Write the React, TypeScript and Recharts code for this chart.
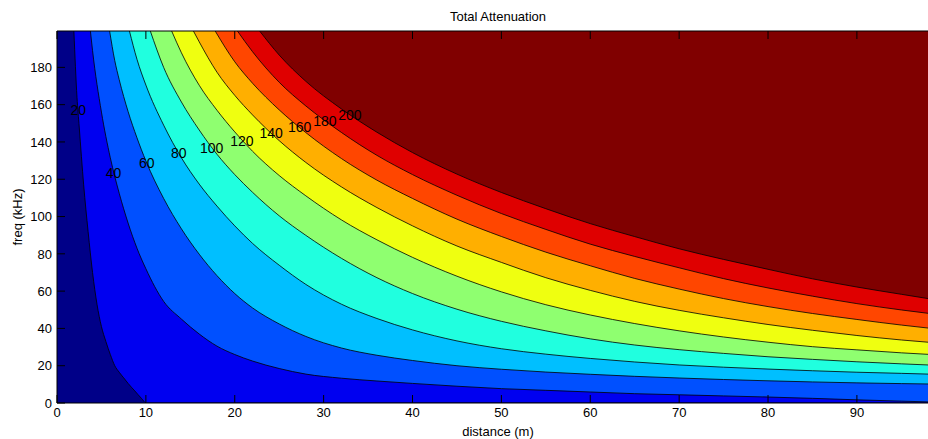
import React from 'react';
import { ComposedChart, Area, Scatter, XAxis, YAxis, ReferenceLine } from 'recharts';

// contour lines of total attenuation as [distance (m), freq (kHz)]
const level20: [number, number][] = [
  [1.9, 199.5], [2.25, 164], [2.5, 148], [3, 117], [3.5, 92], [4, 70], [4.5, 53], [5, 41], [5.5, 33],
  [6, 26], [6.5, 20], [7, 16.5], [7.5, 13.5], [8, 10.5], [8.75, 6.5], [9.5, 2.5], [10.05, 0], [98, 0],
];
const level40: [number, number][] = [
  [3.76, 199.5], [4, 189], [5, 156], [6, 131.5], [7, 112.5], [8, 96.5], [9, 83], [10, 72], [12, 54.5],
  [14, 45], [16, 37], [18, 30.5], [20, 26], [22, 22.5], [25, 18.5], [28, 15.5], [32, 13.3], [36, 11.8],
  [40, 10.5], [45, 9], [50, 7.7], [55, 6.8], [60, 5.9], [65, 5], [70, 4.4], [75, 3.8], [80, 3.2], [85, 2.5],
  [90, 1.7], [95, 1], [98, 0.6],
];
const level60: [number, number][] = [
  [5.92, 199.5], [6.5, 183.6], [7, 173.4], [8, 156.3], [9, 142.2], [10, 129.8], [12, 109.7], [14, 93.4],
  [16, 79.8], [18, 68.3], [20, 58.7], [22, 51], [25, 42.4], [28, 35.7], [32, 29.5], [36, 25.6], [40, 22.8],
  [45, 20], [50, 18.1], [55, 16.6], [60, 15.4], [65, 14.3], [70, 13.4], [75, 12.6], [80, 11.9], [85, 11.3],
  [90, 10.8], [95, 10.4], [98, 10.2],
];
const level80: [number, number][] = [
  [8.15, 199.5], [9, 184.3], [10, 170.5], [12, 149], [14, 131.5], [16, 117.4], [18, 105.6], [20, 95],
  [22, 85.6], [25, 73.9], [28, 63.6], [32, 53], [36, 45.3], [40, 39.2], [45, 33.3], [50, 29.1], [55, 26.2],
  [60, 23.9], [65, 22], [70, 20.4], [75, 19.2], [80, 18.2], [85, 17.3], [90, 16.5], [95, 15.9], [98, 15.5],
];
const level100: [number, number][] = [
  [10.5, 199.5], [12, 180], [14, 161.4], [16, 146.4], [18, 133.4], [20, 122.5], [22, 113], [25, 100.4],
  [28, 89.9], [32, 77.6], [36, 67.2], [40, 58.7], [45, 50.3], [50, 43.8], [55, 38.7], [60, 34.4], [65, 31.1],
  [70, 28.6], [75, 26.6], [80, 24.8], [85, 23.4], [90, 22.1], [95, 21], [98, 20.4],
];
const level120: [number, number][] = [
  [12.9, 199.5], [14, 187.8], [16, 170.4], [18, 157], [20, 145.4], [22, 135], [25, 122], [28, 111.1],
  [32, 98.2], [36, 87.5], [40, 78.1], [45, 68], [50, 59.6], [55, 52.7], [60, 47.2], [65, 42.6], [70, 38.7],
  [75, 35.4], [80, 32.6], [85, 30.2], [90, 28.5], [95, 26.9], [98, 26.1],
];
const level140: [number, number][] = [
  [15.35, 199.5], [16, 193.7], [18, 177.4], [20, 165], [22, 154.5], [25, 140.7], [28, 129], [32, 115.9],
  [36, 104.8], [40, 95], [45, 84.2], [50, 75.4], [55, 67.2], [60, 60.4], [65, 54.5], [70, 49.7], [75, 45.7],
  [80, 42.1], [85, 39], [90, 36.2], [95, 33.8], [98, 32.6],
];
const level160: [number, number][] = [
  [17.8, 199.5], [20, 183], [22, 171.5], [25, 157.2], [28, 145], [32, 131.1], [36, 119.5], [40, 109.7],
  [45, 98.6], [50, 89.3], [55, 80.9], [60, 73.6], [65, 66.8], [70, 61.1], [75, 56], [80, 51.7], [85, 48],
  [90, 44.8], [95, 41.8], [98, 40.2],
];
const level180: [number, number][] = [
  [20.3, 199.5], [22, 188.4], [25, 172], [28, 159.3], [32, 145.1], [36, 132.8], [40, 122.5], [45, 111.4],
  [50, 101.6], [55, 93.1], [60, 85.2], [65, 78.6], [70, 72.5], [75, 66.7], [80, 61.7], [85, 57.3], [90, 53.3],
  [95, 49.9], [98, 48.1],
];
const level200: [number, number][] = [
  [22.8, 199.5], [25, 186.6], [28, 172.5], [32, 157.7], [36, 145.2], [40, 134.3], [45, 122.75], [50, 112.9],
  [55, 104.2], [60, 96.2], [65, 89.25], [70, 82.7], [75, 77], [80, 71.7], [85, 66.6], [90, 62.2], [95, 58.3],
  [98, 56],
];

const contours = [level20, level40, level60, level80, level100, level120, level140, level160, level180, level200];

// contour labels (text, distance, freq)
const labelText = ['20', '40', '60', '80', '100', '120', '140', '160', '180', '200'];
const labelDist = [2.4, 6.35, 10.1, 13.7, 17.4, 20.8, 24.1, 27.3, 30.15, 32.95];
const labelFreq = [157.4, 123.5, 128.8, 134.2, 136.9, 140.5, 144.8, 148.3, 151, 154.6];

const distTicks = [0, 10, 20, 30, 40, 50, 60, 70, 80, 90];
const freqTicks = [0, 20, 40, 60, 80, 100, 120, 140, 160, 180];

// jet-like fills, one per band above each level
const BELOW_FILL = '#000088';
const bandFills = ['#0000F0', '#0050FF', '#00BFFF', '#20FFDF', '#8FFF70', '#EFFF10', '#FFAF00', '#FF4600', '#DF0000', '#800000'];

const W = 928;
const H = 439;
const MARGIN = { top: 31, right: 0, bottom: 0, left: 0 };
const X_AXIS_H = 36;
const Y_AXIS_W = 57;
const D_MAX = 98;
const F_MAX = 199.5;
const TICK_LEN = 8;
const GAP_X = 5;
const GAP_Y = 5;
const FONT = '"Liberation Sans", Arial, Helvetica, sans-serif';

const toPts = (arr: [number, number][]) => arr.map(([d, f]) => ({ d, f }));
const labelPts = labelText.map((text, i) => ({ text, d: labelDist[i], f: labelFreq[i] }));
const fullPlot = [{ d: 0, f: 0 }, { d: D_MAX, f: 0 }];

const DistTick = (props: any) => {
  const { x, y, payload } = props;
  const axisY = y - GAP_X;
  return (
    <g>
      <line x1={x} x2={x} y1={axisY} y2={axisY - TICK_LEN} stroke="#000" />
      <line x1={x} x2={x} y1={MARGIN.top} y2={MARGIN.top + TICK_LEN} stroke="#000" />
      <text x={x} y={y} dy="0.71em" textAnchor="middle" fontSize={13} fill="#000">{payload.value}</text>
    </g>
  );
};

const FreqTick = (props: any) => {
  const { x, y, payload } = props;
  const axisX = x + GAP_Y;
  return (
    <g>
      <line x1={axisX} x2={axisX + TICK_LEN} y1={y} y2={y} stroke="#000" />
      <text x={x} y={y} dy="0.36em" textAnchor="end" fontSize={13} fill="#000">{payload.value}</text>
    </g>
  );
};

const ContourLabel = (props: any) => (
  <text x={props.cx} y={props.cy} dy="0.36em" textAnchor="middle" fontSize={14} fill="#000">
    {props.payload.text}
  </text>
);

export default function App() {
  return (
    <div style={{ position: 'absolute', left: 0, top: 0, width: W, height: H, fontFamily: FONT, background: '#fff' }}>
      <ComposedChart width={W} height={H} margin={MARGIN}>
        <Area
          data={fullPlot}
          dataKey="f"
          type="linear"
          baseValue={F_MAX}
          fill={BELOW_FILL}
          fillOpacity={1}
          stroke="none"
          isAnimationActive={false}
        />
        {contours.map((c, i) => (
          <Area
            key={labelText[i]}
            data={toPts(c)}
            dataKey="f"
            type="monotone"
            baseValue={F_MAX}
            fill={bandFills[i]}
            fillOpacity={1}
            stroke="#000"
            strokeWidth={0.8}
            dot={false}
            activeDot={false}
            isAnimationActive={false}
          />
        ))}
        <Scatter data={labelPts} dataKey="f" shape={ContourLabel} isAnimationActive={false} />
        <ReferenceLine y={F_MAX} stroke="#000" strokeWidth={1} />
        <XAxis
          type="number"
          dataKey="d"
          domain={[0, D_MAX]}
          ticks={distTicks}
          allowDataOverflow
          height={X_AXIS_H}
          tickSize={0}
          tickMargin={GAP_X}
          tickLine={false}
          tick={DistTick}
          axisLine={{ stroke: '#000' }}
          interval={0}
        />
        <YAxis
          type="number"
          dataKey="f"
          domain={[0, F_MAX]}
          ticks={freqTicks}
          allowDataOverflow
          width={Y_AXIS_W}
          tickSize={0}
          tickMargin={GAP_Y}
          tickLine={false}
          tick={FreqTick}
          axisLine={{ stroke: '#000' }}
          interval={0}
        />
      </ComposedChart>
      <svg width={W} height={H} style={{ position: 'absolute', left: 0, top: 0, pointerEvents: 'none' }}>
        <text x={498} y={16} dy="0.36em" textAnchor="middle" fontSize={13} fill="#000">Total Attenuation</text>
        <text x={498} y={431} dy="0.36em" textAnchor="middle" fontSize={13} fill="#000">distance (m)</text>
        <text x={17} y={217} dy="0.36em" textAnchor="middle" fontSize={13} fill="#000" transform="rotate(-90 17 217)">
          freq (kHz)
        </text>
      </svg>
    </div>
  );
}
